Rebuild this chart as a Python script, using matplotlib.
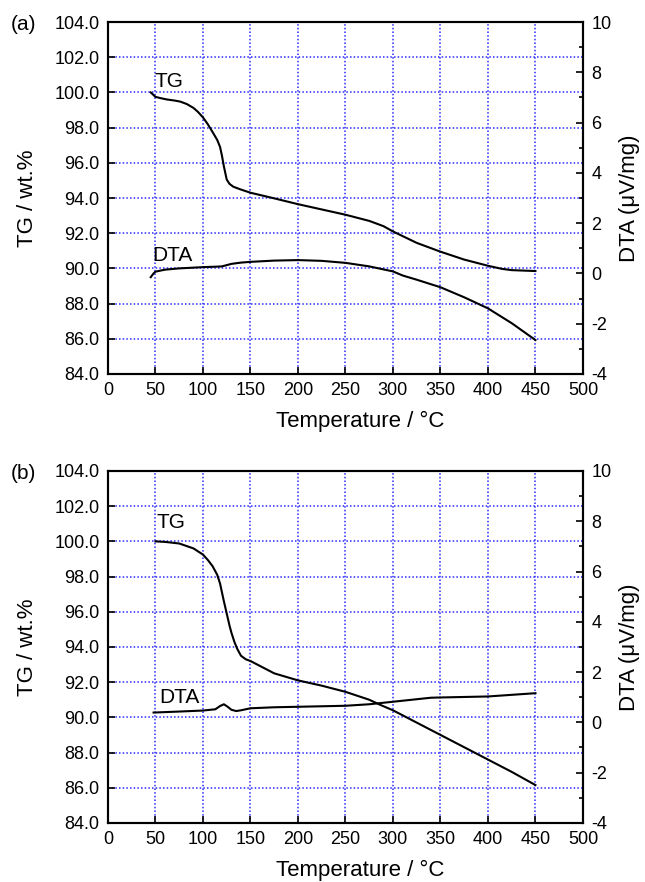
#!/usr/bin/env python3

import numpy as np
from matplotlib import pyplot as plt
from matplotlib.ticker import MultipleLocator, FormatStrFormatter

plt.rcParams['font.family'] = ['Liberation Sans', 'DejaVu Sans']
plt.rcParams['axes.unicode_minus'] = False

# (a) TG curve, wt.%
tg_a_T = [45, 48, 50, 55, 62, 70, 76, 83, 90, 95, 100, 105, 111, 115, 118, 120, 122, 125, 128,
          132, 140, 150, 175, 200, 225, 250, 275, 290, 300, 325, 350, 375, 400, 415, 425, 450]
tg_a_w = [100.0, 99.85, 99.75, 99.68, 99.6, 99.54, 99.48, 99.34, 99.12, 98.88, 98.58, 98.2, 97.67,
          97.3, 96.9, 96.4, 95.8, 95.05, 94.8, 94.64, 94.48, 94.3, 93.98, 93.65, 93.35, 93.05,
          92.7, 92.4, 92.1, 91.45, 90.95, 90.5, 90.15, 89.97, 89.9, 89.85]

# (a) DTA curve, uV/mg
dta_a_T = [45, 48, 50, 60, 75, 100, 115, 120, 125, 130, 140, 150, 175, 200, 225, 250, 275,
           300, 305, 310, 325, 350, 375, 400, 425, 450]
dta_a_v = [-0.15, 0.0, 0.07, 0.15, 0.2, 0.25, 0.27, 0.28, 0.33, 0.38, 0.43, 0.46, 0.51, 0.53,
           0.5, 0.42, 0.28, 0.08, 0.0, -0.08, -0.25, -0.55, -0.95, -1.39, -1.98, -2.65]

# (b) TG curve, wt.%
tg_b_T = [50, 60, 75, 90, 100, 105, 110, 115, 118, 120, 122, 125, 128, 130, 133, 136, 140, 145,
          150, 175, 200, 225, 250, 275, 287, 300, 325, 350, 375, 400, 425, 450]
tg_b_w = [100.0, 99.97, 99.88, 99.6, 99.25, 98.95, 98.6, 98.1, 97.6, 97.1, 96.6, 95.9, 95.2,
          94.8, 94.3, 93.9, 93.5, 93.3, 93.2, 92.5, 92.1, 91.8, 91.45, 91.0, 90.7, 90.4, 89.7,
          89.0, 88.3, 87.6, 86.9, 86.15]

# (b) DTA curve, uV/mg
dta_b_T = [48, 75, 100, 113, 118, 122, 126, 130, 135, 140, 150, 175, 200, 250, 275, 300, 325,
           340, 350, 400, 450]
dta_b_v = [0.39, 0.43, 0.47, 0.52, 0.65, 0.72, 0.62, 0.5, 0.45, 0.48, 0.56, 0.6, 0.62, 0.66,
           0.72, 0.82, 0.92, 0.98, 0.99, 1.03, 1.16]

panels = [
    ('(a)', tg_a_T, tg_a_w, dta_a_T, dta_a_v, (49, 100.6), (47, 90.75), 0.576),
    ('(b)', tg_b_T, tg_b_w, dta_b_T, dta_b_v, (51, 101.05), (54.5, 91.1), 0.067),
]

fig = plt.figure(figsize=(6.45, 8.82), dpi=100)
grid_kw = dict(color='#2a2aff', linestyle=(0, (1, 1.4)), linewidth=1.1)

for name, tT, tw, dT, dv, tg_pos, dta_pos, bottom in panels:
    ax = fig.add_axes([0.1674, bottom, 0.7364, 0.399])
    axr = ax.twinx()

    ax.plot(tT, tw, color='black', lw=1.5)
    axr.plot(dT, dv, color='black', lw=1.5)

    ax.set_xlim(0, 500)
    ax.set_ylim(84, 104)
    axr.set_ylim(-4, 10)
    ax.xaxis.set_major_locator(MultipleLocator(50))
    ax.yaxis.set_major_locator(MultipleLocator(2))
    ax.yaxis.set_major_formatter(FormatStrFormatter('%.1f'))
    axr.yaxis.set_major_locator(MultipleLocator(2))
    axr.yaxis.set_minor_locator(MultipleLocator(1))
    ax.grid(True, **grid_kw)

    ax.tick_params(axis='both', which='major', direction='in', length=5, width=1.2,
                   labelsize=13, pad=6, top=False, right=False)
    axr.tick_params(axis='y', which='major', direction='in', length=5, width=1.2,
                    labelsize=13, pad=6)
    axr.tick_params(axis='y', which='minor', direction='in', length=3, width=1.2)

    for a in (ax, axr):
        for sp in a.spines.values():
            sp.set_linewidth(1.5)

    ax.text(tg_pos[0], tg_pos[1], 'TG', fontsize=15, va='center', ha='left')
    ax.text(dta_pos[0], dta_pos[1], 'DTA', fontsize=15, va='center', ha='left')

    ax.set_xlabel('Temperature / °C', fontsize=16)
    ax.set_ylabel('TG / wt.%', fontsize=16)
    axr.set_ylabel('DTA (μV/mg)', fontsize=16)
    ax.xaxis.set_label_coords(0.53, -0.105)
    ax.yaxis.set_label_coords(-0.148, 0.5)
    axr.yaxis.set_label_coords(1.076, 0.5)

    fig.text(0.036, bottom + 0.399 - 0.003, name, fontsize=15, ha='center', va='center')

fig.savefig('out.png', dpi=100)
